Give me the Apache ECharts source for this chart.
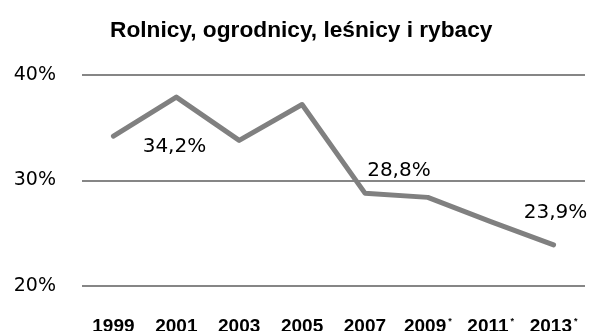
<!DOCTYPE html>
<html>
<head>
<meta charset="utf-8">
<script src="https://cdn.jsdelivr.net/npm/echarts@6/dist/echarts.min.js"></script>
<style>
  html, body { margin: 0; padding: 0; background: #fff; }
  #chart { width: 590px; height: 331px; }
</style>
</head>
<body>
<div id="chart"></div>
<script>
// Share of farmers, gardeners, foresters and fishermen by survey year
const years = ['1999', '2001', '2003', '2005', '2007', '2009', '2011', '2013'];
const footnoted = ['2009', '2011', '2013'];
const shares = [34.2, 37.9, 33.8, 37.2, 28.8, 28.4, 26.1, 23.9];
const labelledYears = ['1999', '2007', '2013'];
const labelOffsets = { '1999': [61, 11], '2007': [34, -22], '2013': [2, -32] };
const yTicks = [20, 30, 40];

const fmt = v => v.toFixed(1).replace('.', ',') + '%';

const seriesData = shares.map((v, i) => {
  const y = years[i];
  if (labelledYears.indexOf(y) < 0) return v;
  return {
    value: v,
    label: {
      show: true,
      position: 'inside',
      offset: labelOffsets[y],
      formatter: () => fmt(v),
      fontFamily: 'DejaVu Sans',
      fontSize: 20,
      color: '#000'
    }
  };
});

const chart = echarts.init(document.getElementById('chart'), null, { renderer: 'canvas' });
chart.setOption({
  animation: false,
  backgroundColor: '#fff',
  title: {
    text: 'Rolnicy, ogrodnicy, leśnicy i rybacy',
    left: 105,
    top: 14,
    textStyle: {
      fontFamily: '"Liberation Sans", sans-serif',
      fontWeight: 'bold',
      fontSize: 22.7,
      color: '#000'
    }
  },
  grid: { left: 82, right: 5, top: 75, bottom: 45, outerBoundsMode: 'none', containLabel: false },
  xAxis: {
    type: 'category',
    data: years,
    boundaryGap: true,
    axisLine: { show: false },
    axisTick: { show: false },
    axisLabel: {
      margin: 31,
      interval: 0,
      formatter: v => footnoted.indexOf(v) >= 0 ? v + '{s|*}' : v,
      fontFamily: '"Liberation Sans", sans-serif',
      fontWeight: 'bold',
      fontSize: 19,
      color: '#000',
      rich: {
        s: { fontSize: 9, fontWeight: 'bold', color: '#000', verticalAlign: 'top', padding: [0, 0, 0, 2] }
      }
    }
  },
  yAxis: {
    type: 'value',
    min: yTicks[0],
    max: yTicks[yTicks.length - 1],
    interval: 10,
    axisLine: { show: false },
    axisTick: { show: false },
    axisLabel: {
      margin: 26,
      formatter: v => v + '%',
      fontFamily: 'DejaVu Sans',
      fontSize: 19,
      color: '#000'
    },
    splitLine: { lineStyle: { color: '#868686', width: 2 } }
  },
  series: [{
    type: 'line',
    data: seriesData,
    symbol: 'circle',
    symbolSize: 1,
    showSymbol: true,
    itemStyle: { color: '#808080' },
    lineStyle: { color: '#808080', width: 5, cap: 'round', join: 'round' }
  }]
});
</script>
</body>
</html>
